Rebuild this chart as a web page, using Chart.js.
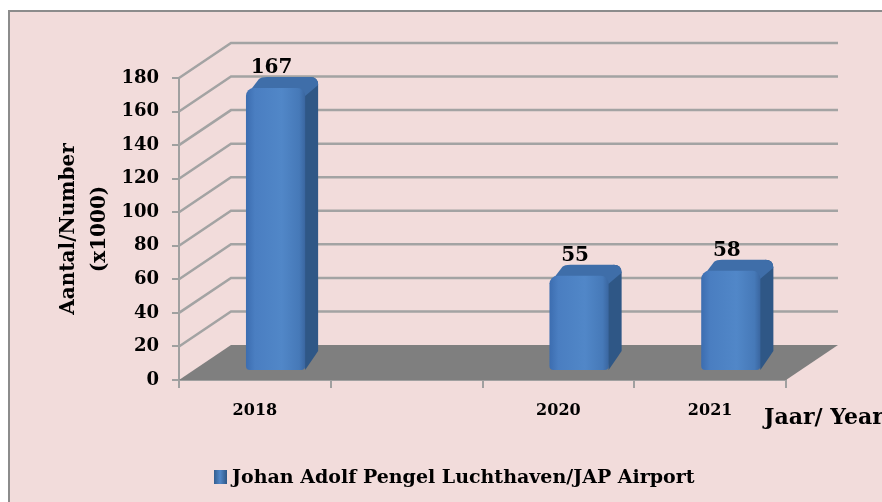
<!DOCTYPE html>
<html>
<head>
<meta charset="utf-8">
<script src="https://cdn.jsdelivr.net/npm/chart.js@4.4.1/dist/chart.umd.min.js"></script>
<style>
  html, body { margin: 0; padding: 0; background: #fff; overflow: hidden; }
  #wrap { width: 882px; height: 502px; }
</style>
</head>
<body>
<div id="wrap"><canvas id="chart" width="882" height="502"></canvas></div>
<script>
const years = ["2018", "", "2020", "2021"];
const passengers = [167, null, 55, 58];
const yTicks = [0, 20, 40, 60, 80, 100, 120, 140, 160, 180];
const seriesName = "Johan Adolf Pengel Luchthaven/JAP Airport";

// 3D look: offsets of the back wall and of the bar faces
const DX = 52, DY = -35;
const D1 = 0.34;          // bar front face depth
const SDX = 13, SDY = -11; // bar side/top depth

const serif = "'DejaVu Serif', serif";

const frame = {
    id: "frame",
    beforeDraw(chart) {
        const ctx = chart.ctx;
        ctx.save();
        ctx.fillStyle = "#ffffff";
        ctx.fillRect(0, 0, chart.width, chart.height);
        ctx.fillStyle = "#f2dcdb";
        ctx.fillRect(8, 10, chart.width - 8, chart.height - 10);
        ctx.strokeStyle = "#8c8c8c";
        ctx.lineWidth = 2;
        ctx.beginPath();
        ctx.moveTo(9, chart.height);
        ctx.lineTo(9, 11);
        ctx.lineTo(chart.width, 11);
        ctx.stroke();
        ctx.restore();
    },
    beforeDatasetsDraw(chart) {
        const ctx = chart.ctx;
        const y = chart.scales.y;
        const a = chart.chartArea;
        ctx.save();
        // back wall grid lines
        ctx.strokeStyle = "#a3a3a3";
        ctx.lineWidth = 2.5;
        yTicks.forEach(v => {
            if (v === 0) return;
            const py = y.getPixelForValue(v);
            ctx.beginPath();
            ctx.moveTo(a.left, py);
            ctx.lineTo(a.left + DX, py + DY);
            ctx.lineTo(a.right + DX, py + DY);
            ctx.stroke();
        });
        // floor
        const p0 = y.getPixelForValue(0);
        ctx.fillStyle = "#7f7f7f";
        ctx.beginPath();
        ctx.moveTo(a.left, p0);
        ctx.lineTo(a.right, p0);
        ctx.lineTo(a.right + DX, p0 + DY);
        ctx.lineTo(a.left + DX, p0 + DY);
        ctx.closePath();
        ctx.fill();
        ctx.restore();
    },
    afterDatasetsDraw(chart) {
        const ctx = chart.ctx;
        const y = chart.scales.y;
        const meta = chart.getDatasetMeta(0);
        ctx.save();
        meta.data.forEach((el, i) => {
            const v = passengers[i];
            if (v == null) return;
            const w = el.width;
            const fx = el.x + DX * D1 - w / 2 + 3;
            const fb = y.getPixelForValue(0) + DY * D1 + 2;
            const ft = y.getPixelForValue(v) + DY * D1;
            const r = 8;
            // side face
            ctx.fillStyle = "#2f5786";
            ctx.beginPath();
            ctx.moveTo(fx + w - r, ft);
            ctx.lineTo(fx + w - r + SDX, ft + SDY);
            ctx.quadraticCurveTo(fx + w + SDX, ft + SDY, fx + w + SDX, ft + SDY + r);
            ctx.lineTo(fx + w + SDX, fb + SDY - r);
            ctx.lineTo(fx + w, fb);
            ctx.closePath();
            ctx.fill();
            // top face
            ctx.fillStyle = "#3f6ea9";
            ctx.beginPath();
            ctx.moveTo(fx, ft + r);
            ctx.lineTo(fx + SDX, ft + SDY + 2);
            ctx.quadraticCurveTo(fx + SDX + 2, ft + SDY, fx + SDX + r, ft + SDY);
            ctx.lineTo(fx + w - r + SDX, ft + SDY);
            ctx.quadraticCurveTo(fx + w + SDX, ft + SDY, fx + w + SDX, ft + SDY + r);
            ctx.lineTo(fx + w, ft + r);
            ctx.closePath();
            ctx.fill();
            // front face
            const g = ctx.createLinearGradient(fx, 0, fx + w, 0);
            g.addColorStop(0, "#3c6db0");
            g.addColorStop(0.15, "#4a7ec1");
            g.addColorStop(0.6, "#5187c8");
            g.addColorStop(0.9, "#4679b8");
            g.addColorStop(1, "#3a66a0");
            ctx.fillStyle = g;
            ctx.beginPath();
            ctx.roundRect(fx, ft, w, fb - ft, [r, r, 4, 4]);
            ctx.fill();
            // value label
            ctx.fillStyle = "#000";
            ctx.font = "bold 20px " + serif;
            ctx.textAlign = "center";
            ctx.textBaseline = "middle";
            ctx.fillText(String(v), fx + w / 2 - 4, ft - 20);
        });
        ctx.restore();
    },
    afterDraw(chart) {
        const ctx = chart.ctx;
        ctx.save();
        ctx.fillStyle = "#000";
        ctx.font = "bold 22px " + serif;
        ctx.textAlign = "left";
        ctx.textBaseline = "middle";
        ctx.fillText("Jaar/ Year", 764, 418);

        // legend
        ctx.font = "bold 19px " + serif;
        const g = ctx.createLinearGradient(213, 0, 227, 0);
        g.addColorStop(0, "#2f5786");
        g.addColorStop(0.5, "#5187c8");
        g.addColorStop(1, "#2f5786");
        ctx.fillStyle = g;
        ctx.fillRect(214, 470, 13, 14);
        ctx.fillStyle = "#000";
        ctx.fillText(seriesName, 232, 478);
        ctx.restore();
    }
};

new Chart(document.getElementById("chart"), {
    type: "bar",
    data: {
        labels: years,
        datasets: [
            {
                label: seriesName,
                data: passengers,
                backgroundColor: "rgba(0,0,0,0)",
                borderWidth: 0,
                categoryPercentage: 1,
                barPercentage: 0.39,
            },
        ],
    },
    options: {
        responsive: false,
        animation: false,
        layout: {
            padding: { left: 53, right: 96, top: 78, bottom: 45 },
        },
        scales: {
            x: {
                grid: {
                    offset: true,
                    drawOnChartArea: false,
                    drawTicks: true,
                    tickLength: 8,
                    color: "#a0a0a0",
                    lineWidth: 2,
                },
                border: { color: "#a0a0a0", width: 2 },
                ticks: {
                    color: "#000",
                    padding: 13,
                    font: { family: serif, size: 16, weight: "bold" },
                },
                afterFit(s) { s.height = 77; },
            },
            y: {
                min: 0,
                max: 180,
                afterBuildTicks(s) { s.ticks = yTicks.map(v => ({ value: v })); },
                grid: {
                    drawOnChartArea: false,
                    drawTicks: true,
                    tickLength: 7,
                    color: "#a0a0a0",
                    lineWidth: 2,
                },
                border: { color: "#a0a0a0", width: 2 },
                ticks: {
                    color: "#000",
                    padding: 13,
                    font: { family: serif, size: 18, weight: "bold" },
                },
                title: {
                    display: true,
                    text: ["Aantal/Number", "(x1000)"],
                    color: "#000",
                    font: { family: serif, size: 20, weight: "bold", lineHeight: 1.55 },
                    padding: 0,
                },
                afterFit(s) { s.width = 126; },
            },
        },
        plugins: {
            legend: { display: false },
            tooltip: { enabled: false },
        },
    },
    plugins: [frame],
});
</script>
</body>
</html>
